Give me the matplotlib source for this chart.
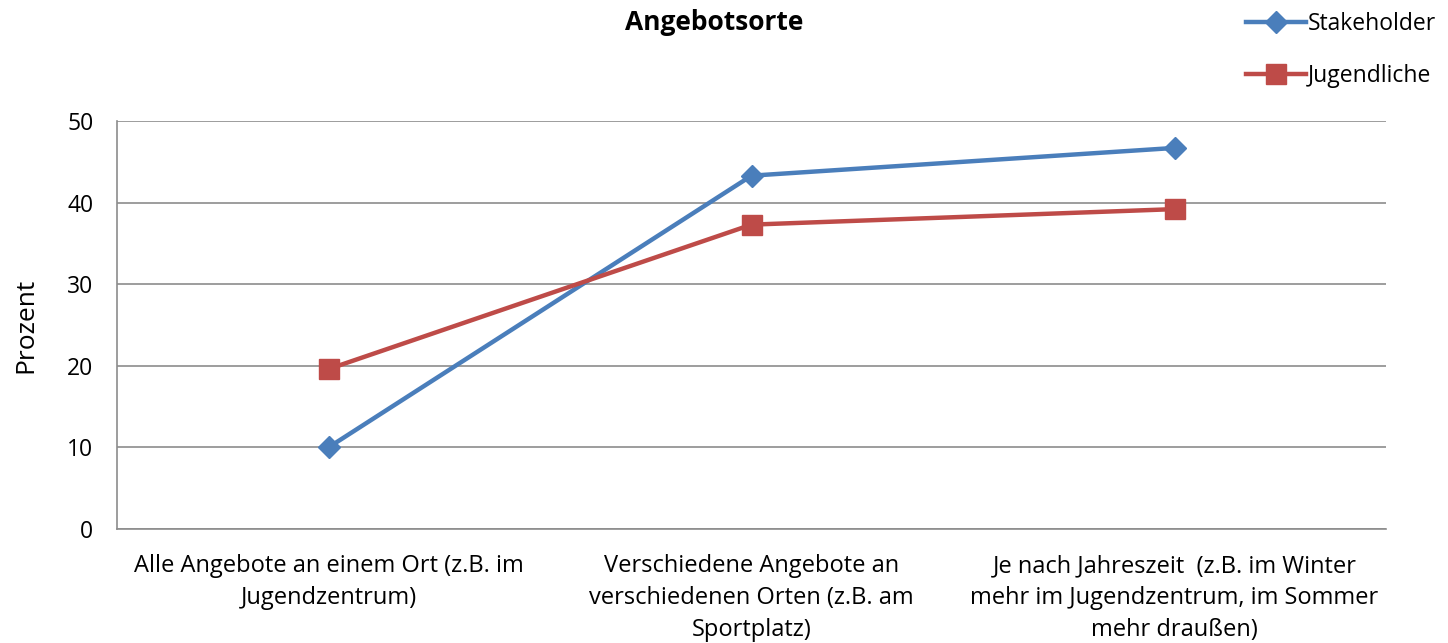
import matplotlib
matplotlib.use("Agg")
import matplotlib.pyplot as plt

categories = [
    "Alle Angebote an einem Ort (z.B. im\nJugendzentrum)",
    "Verschiedene Angebote an\nverschiedenen Orten (z.B. am\nSportplatz)",
    "Je nach Jahreszeit  (z.B. im Winter\nmehr im Jugendzentrum, im Sommer\nmehr draußen)",
]
stakeholder = [10.0, 43.3, 46.7]
jugendliche = [19.6, 37.3, 39.2]
yticks = [0, 10, 20, 30, 40, 50]

plt.rcParams['font.family'] = ['Open Sans', 'DejaVu Sans']

fig = plt.figure(figsize=(14.48, 6.43), dpi=100)
ax = fig.add_axes([117/1448, 1-529/643, (1386-117)/1448, (529-121)/643])

x = list(range(len(categories)))
l1, = ax.plot(x, stakeholder, color='#4A7EBB', lw=3.2, marker='D', ms=11,
              markerfacecolor='#4A7EBB', markeredgecolor='#4A7EBB', label='Stakeholder', zorder=3)
l2, = ax.plot(x, jugendliche, color='#BE4B48', lw=3.2, marker='s', ms=14,
              markerfacecolor='#BE4B48', markeredgecolor='#BE4B48', label='Jugendliche', zorder=3)

ax.set_xlim(-0.5, 2.5)
ax.set_ylim(0, 50)
ax.set_yticks(yticks)
ax.set_yticklabels([str(v) for v in yticks], fontsize=16.5)
ax.set_xticks(x)
ax.set_xticklabels(categories, fontsize=17, linespacing=1.45)
ax.tick_params(axis='x', length=0, pad=18)
ax.tick_params(axis='y', length=0, pad=17)
ax.yaxis.grid(True, color='#8C8C8C', lw=1.2)
ax.set_axisbelow(True)
for s in ['top', 'right']:
    ax.spines[s].set_visible(False)
for s in ['left', 'bottom']:
    ax.spines[s].set_color('#8C8C8C')
    ax.spines[s].set_linewidth(1.2)
ax.set_ylabel('Prozent', fontsize=19, labelpad=21)

fig.text(714/1448, 1-22/643, 'Angebotsorte', ha='center', va='center', fontsize=19, fontweight='bold')

fig.legend(handles=[l1, l2], loc='upper right', bbox_to_anchor=(1.006, 1.013), frameon=False,
           fontsize=16.5, handlelength=2.6, handletextpad=0.1, labelspacing=1.2)

fig.savefig('out.png', dpi=100)
